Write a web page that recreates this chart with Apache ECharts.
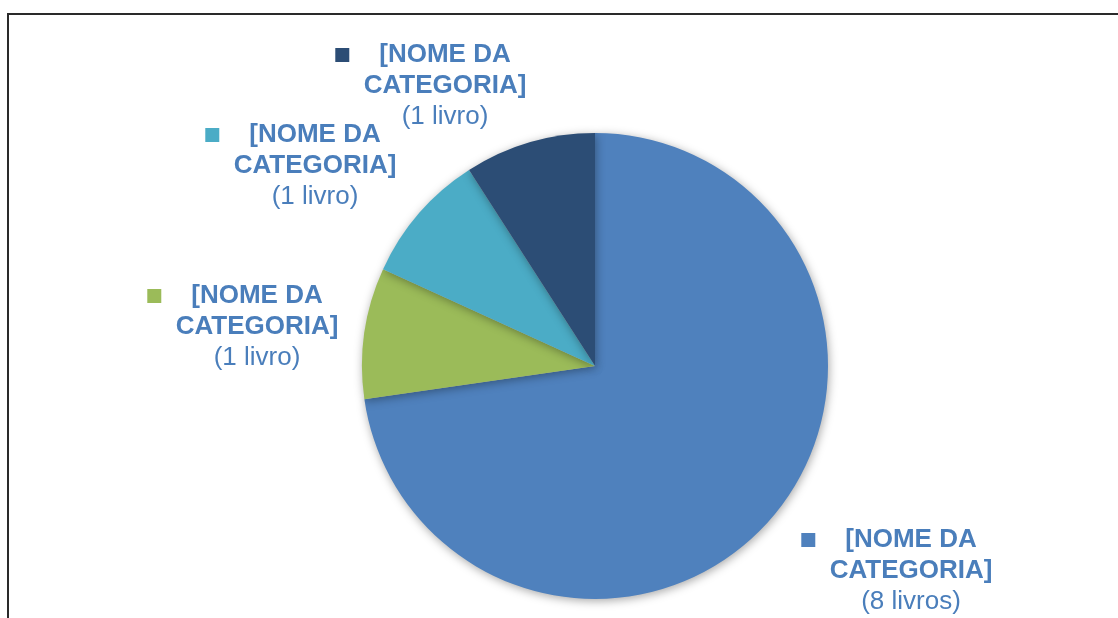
<!DOCTYPE html>
<html>
<head>
<meta charset="utf-8">
<script src="https://cdn.jsdelivr.net/npm/echarts@6/dist/echarts.min.js"></script>
<style>
  html, body { margin: 0; padding: 0; background: #fff; overflow: hidden; }
  #frame { position: absolute; left: 7px; top: 13px; width: 2000px; height: 2000px;
           border-left: 2px solid #2a2a2a; border-top: 2px solid #2a2a2a; }
  #main { position: absolute; left: 0; top: 0; width: 1118px; height: 618px; }
</style>
</head>
<body>
<div id="frame"></div>
<div id="main"></div>
<script>
// dados do gráfico
const categorias = ['[NOME DA CATEGORIA]', '[NOME DA CATEGORIA]', '[NOME DA CATEGORIA]', '[NOME DA CATEGORIA]'];
const livros = [8, 1, 1, 1];
const unidades = ['(8 livros)', '(1 livro)', '(1 livro)', '(1 livro)'];
const cores = ['#4f81bd', '#9bbb59', '#4bacc6', '#2c4d75'];

// posição dos rótulos (centro do bloco de texto)
const posRotulos = [[911, 571], [257, 327], [315, 166], [445, 86]];

const myChart = echarts.init(document.getElementById('main'));

myChart.setOption({
  animation: false,
  series: [{
    type: 'pie',
    center: [595, 366],
    radius: 233,
    startAngle: 90,
    clockwise: true,
    data: livros.map((v, i) => ({
      value: v,
      name: categorias[i],
      itemStyle: { color: cores[i] },
      label: { rich: { sq: { backgroundColor: cores[i], width: 14, height: 14 } } }
    })),
    itemStyle: {
      shadowBlur: 10,
      shadowColor: 'rgba(0,0,0,0.35)',
      shadowOffsetX: 1,
      shadowOffsetY: 2
    },
    labelLine: { show: false },
    label: {
      show: true,
      position: 'outside',
      formatter: p => '{sq| }{gap| }{b|[NOME DA}{pad| }\n{b|CATEGORIA]}\n{n|' + unidades[p.dataIndex] + '}',
      align: 'center',
      rich: {
        sq: { width: 14, height: 14 },
        gap: { width: 30 },
        pad: { width: 44 },
        b: { fontFamily: 'Liberation Sans, Arial', fontWeight: 'bold', fontSize: 26, color: '#4a7ebb', lineHeight: 31 },
        n: { fontFamily: 'Liberation Sans, Arial', fontSize: 26, color: '#4a7ebb', lineHeight: 31 }
      }
    },
    labelLayout: p => ({
      x: posRotulos[p.dataIndex][0],
      y: posRotulos[p.dataIndex][1],
      align: 'center',
      verticalAlign: 'middle'
    })
  }]
});
</script>
</body>
</html>
